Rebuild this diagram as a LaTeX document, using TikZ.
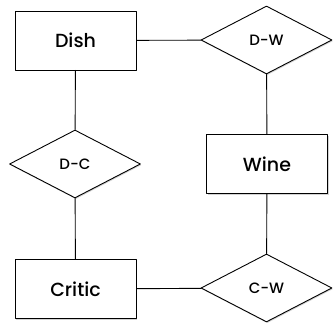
\documentclass[tikz,border=0pt]{standalone}
\usepackage{fontspec}
\setmainfont{Poppins Medium}
\usetikzlibrary{shapes.geometric,shadows}
\begin{document}
\begin{tikzpicture}[x=1pt, y=1pt, line join=round, line cap=round,
	entity/.style={draw, fill=white, line width=0.9pt, minimum width=121pt, minimum height=59pt,
		font=\fontsize{19}{23}\selectfont,
		drop shadow={shadow xshift=1pt, shadow yshift=-1.2pt, opacity=0.35}},
	relation/.style={diamond, draw, fill=white, line width=0.9pt, inner sep=0pt,
		minimum width=131pt, minimum height=68pt,
		font=\fontsize{15}{18}\selectfont,
		drop shadow={shadow xshift=0.8pt, shadow yshift=-1.2pt, opacity=0.35}},
	link/.style={line width=0.9pt}]
	\useasboundingbox (0,0) rectangle (333,323);
	\path
	(75.5,282.5) coordinate (D)
	(266.5,283) coordinate (DW)
	(75,159) coordinate (DC)
	(267,159) coordinate (W)
	(75.5,34) coordinate (C)
	(266.5,35) coordinate (CW);
	\node[entity] (dish) at (D) {Dish};
	\node[entity] (wine) at (W) {Wine};
	\node[entity] (critic) at (C) {Critic};
	\node[relation] (dw) at (DW) {D-W};
	\node[relation] (dc) at (DC) {D-C};
	\node[relation] (cw) at (CW) {C-W};
	% entity -- relationship links
	\foreach \a/\b in {dish/dw, dish/dc, dc/critic, critic/cw, dw/wine, wine/cw}
	\draw [link] (\a) -- (\b);
\end{tikzpicture}
\end{document}
